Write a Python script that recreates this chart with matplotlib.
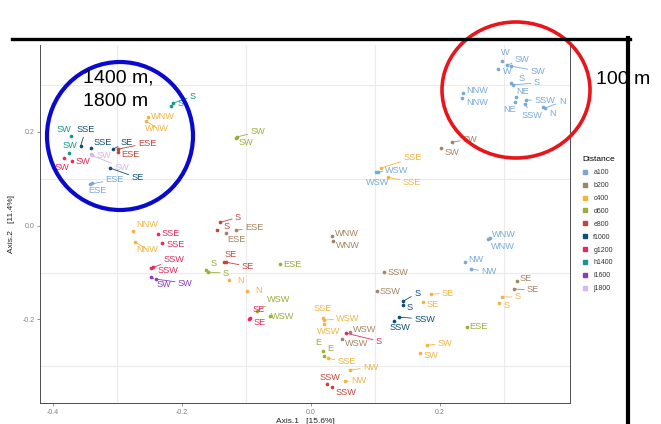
import matplotlib
matplotlib.use("Agg")
import matplotlib.pyplot as plt
from matplotlib.lines import Line2D
from matplotlib.patches import Ellipse

plt.rcParams['font.family'] = ['Liberation Sans', 'DejaVu Sans']

# PCoA scores per distance group (Axis.1, Axis.2) and wind direction labels
a100_x = [0.296, 0.290, 0.304, 0.310, 0.310, 0.313, 0.318, 0.316, 0.333, 0.332, 0.363,
          0.360, 0.236, 0.234, 0.101, 0.104, -0.343, -0.340, 0.274, 0.278, 0.239, 0.248]
a100_y = [0.351, 0.334, 0.342, 0.340, 0.304, 0.300, 0.274, 0.263, 0.268, 0.259, 0.251,
          0.253, 0.283, 0.272, 0.114, 0.114, 0.088, 0.091, -0.029, -0.027, -0.078, -0.093]
a100_lab = ["W", "W", "SW", "SW", "S", "S", "NE", "NE", "SSW", "SSW", "N",
            "N", "NNW", "NNW", "WSW", "WSW", "ESE", "ESE", "WNW", "WNW", "NW", "NW"]

b200_x = [0.219, 0.202, 0.033, 0.034, 0.113, 0.102, -0.116, -0.132, 0.319, 0.315, 0.060, 0.048]
b200_y = [0.178, 0.165, -0.022, -0.033, -0.099, -0.140, -0.010, -0.016, -0.118, -0.135, -0.227, -0.242]
b200_lab = ["SW", "SW", "WNW", "WNW", "SSW", "SSW", "ESE", "ESE", "SE", "SE", "WSW", "WSW"]

c400_x = [-0.253, -0.256, 0.109, 0.119, -0.276, -0.273, -0.127, -0.099, 0.019, 0.020,
          0.020, 0.026, 0.060, 0.053, 0.186, 0.174, 0.296, 0.291, 0.180, 0.169]
c400_y = [0.231, 0.223, 0.123, 0.103, -0.012, -0.035, -0.116, -0.140, -0.197, -0.201,
          -0.210, -0.283, -0.308, -0.332, -0.146, -0.163, -0.152, -0.165, -0.255, -0.272]
c400_lab = ["WNW", "WNW", "SSE", "SSE", "NNW", "NNW", "N", "N", "SSE", "WSW",
            "WSW", "SSE", "NW", "NW", "SE", "SE", "S", "S", "SW", "SW"]

d600_x = [-0.115, -0.116, -0.163, -0.160, -0.048, 0.242, -0.064, -0.084, 0.019, 0.020]
d600_y = [0.189, 0.187, -0.095, -0.099, -0.082, -0.216, -0.193, -0.182, -0.268, -0.278]
d600_lab = ["SW", "SW", "S", "S", "ESE", "ESE", "WSW", "WSW", "E", "E"]

e800_x = [-0.299, -0.299, -0.141, -0.146, -0.135, -0.132, 0.025, 0.033]
e800_y = [0.163, 0.157, 0.007, -0.010, -0.078, -0.078, -0.338, -0.344]
e800_lab = ["ESE", "ESE", "S", "S", "SE", "SE", "SSW", "SSW"]

f1000_x = [-0.357, -0.341, -0.307, -0.312, 0.143, 0.143, 0.129, 0.136]
f1000_y = [0.170, 0.165, 0.163, 0.123, -0.161, -0.170, -0.204, -0.195]
f1000_lab = ["SSE", "SSE", "SE", "SE", "S", "S", "SSW", "SSW"]

g1200_x = [-0.383, -0.371, -0.237, -0.231, -0.248, -0.245, -0.095, -0.096, 0.054]
g1200_y = [0.144, 0.138, -0.018, -0.037, -0.091, -0.088, -0.197, -0.199, -0.229]
g1200_lab = ["SW", "SW", "SSE", "SSE", "SSW", "SSW", "SE", "SE", "S"]

h1400_x = [-0.214, -0.217, -0.372, -0.375]
h1400_y = [0.261, 0.255, 0.191, 0.155]
h1400_lab = ["S", "S", "SW", "SW"]

i1600_x = [-0.248, -0.240]
i1600_y = [-0.110, -0.114]
i1600_lab = ["SW", "SW"]

j1800_x = [-0.341, -0.340]
j1800_y = [0.152, 0.150]
j1800_lab = ["SW", "SW"]

# repelled label offsets in pixels (right, up)
a100_off = [(3, 8), (9, -3), (15, 6), (27, -5), (11, 5), (24, 2), (7, 6), (-5, -7), (19, -1),
            (7, -11), (17, 6), (9, -7), (14, 2), (15, -4), (21, 2), (0, -10), (25, 5), (6, -8),
            (16, 5), (13, -8), (11, 3), (18, -2)]
b200_off = [(18, 3), (11, -4), (15, 2), (15, -4), (14, 0), (13, 0), (18, 3), (11, -6),
            (9, 3), (19, -1), (15, 3), (15, -4)]
c400_off = [(15, 1), (11, -7), (31, 10), (24, -5), (14, 7), (12, -7), (12, 0), (11, 1),
            (0, 10), (24, 1), (5, -7), (19, -3), (21, 3), (14, 1), (17, 1), (9, -2),
            (16, 0), (8, -2), (18, 2), (11, -2)]
d600_off = [(21, 5), (10, -5), (8, 7), (18, -1), (12, 0), (11, 0), (13, 0), (22, 12), (-5, 9), (6, 8)]
e800_off = [(29, 6), (12, -3), (18, 5), (10, 4), (7, 8), (22, -4), (3, 7), (14, -5)]
f1000_off = [(5, 16), (12, 6), (14, 7), (28, -10), (14, 8), (6, -2), (6, -6), (26, -2)]
g1200_off = [(-2, -9), (11, -1), (13, 1), (14, -1), (23, 9), (15, -4), (9, 9), (11, -3), (33, -8)]
h1400_off = [(20, 7), (10, 2), (-7, 7), (1, 7)]
i1600_off = [(13, -7), (29, -4)]
j1800_off = [(13, -1), (30, -12)]

groups = ["a100", "b200", "c400", "d600", "e800", "f1000", "g1200", "h1400", "i1600", "j1800"]
colors = ["#78A9D6", "#A48363", "#F2B441", "#9BAE3C", "#C2453B",
          "#0D5073", "#E62A5F", "#16978B", "#8B3DBA", "#D8B6F0"]
data = [
    (a100_x, a100_y, a100_lab, a100_off),
    (b200_x, b200_y, b200_lab, b200_off),
    (c400_x, c400_y, c400_lab, c400_off),
    (d600_x, d600_y, d600_lab, d600_off),
    (e800_x, e800_y, e800_lab, e800_off),
    (f1000_x, f1000_y, f1000_lab, f1000_off),
    (g1200_x, g1200_y, g1200_lab, g1200_off),
    (h1400_x, h1400_y, h1400_lab, h1400_off),
    (i1600_x, i1600_y, i1600_lab, i1600_off),
    (j1800_x, j1800_y, j1800_lab, j1800_off),
]

W, H = 661, 424
fig = plt.figure(figsize=(W / 100, H / 100), dpi=100)
ax = fig.add_axes([40 / W, 21 / H, 530 / W, 358 / H])
ax.set_xlim(-0.420, 0.4016)
ax.set_ylim(-0.378, 0.385)

# grid lines sit between the tick labels
for g in [-0.3, -0.1, 0.1, 0.3]:
    ax.axvline(g, color="#ebebeb", lw=0.8, zorder=0)
    ax.axhline(g, color="#ebebeb", lw=0.8, zorder=0)

ax.set_xticks([-0.4, -0.2, 0.0, 0.2])
ax.set_yticks([-0.2, 0.0, 0.2])
ax.set_xticklabels(["-0.4", "-0.2", "0.0", "0.2"])
ax.set_yticklabels(["-0.2", "0.0", "0.2"])
ax.tick_params(labelsize=5, colors="#7f7f7f", length=2.5, width=0.6, pad=1.5)
for side in ["left", "bottom", "right"]:
    ax.spines[side].set_color("#4d4d4d")
    ax.spines[side].set_linewidth(0.7)
ax.spines["top"].set_visible(False)
ax.set_xlabel("Axis.1   [15.6%]", fontsize=6, color="#222222", labelpad=2)
ax.set_ylabel("Axis.2   [11.4%]", fontsize=6, color="#222222", labelpad=5)

for (xs, ys, labs, offs), col in zip(data, colors):
    ax.scatter(xs, ys, s=7, color=col, zorder=3, linewidths=0)
    for x, y, lab, (dx, dy) in zip(xs, ys, labs, offs):
        props = None
        if (dx * dx + dy * dy) ** 0.5 > 13:
            props = dict(arrowstyle="-", color=col, lw=0.6, shrinkA=0, shrinkB=0)
        ax.annotate(lab, xy=(x, y), xytext=(dx, dy), textcoords="offset pixels",
                    ha="center", va="center", fontsize=6.6, color=col,
                    arrowprops=props, zorder=4)

handles = [Line2D([], [], marker="s", linestyle="", markersize=3, color=c) for c in colors]
leg = fig.legend(handles, groups, title="Distance", loc="upper left",
                 bbox_to_anchor=(576 / W, 1 - 150 / H), frameon=False, fontsize=5,
                 title_fontsize=6, handlelength=0.8, handletextpad=0.8,
                 labelspacing=0.85, alignment="left")
for t in leg.get_texts():
    t.set_color("#333333")


def fpos(px, py):
    return px / W, 1 - py / H


# callouts drawn over the figure
fig.add_artist(Ellipse(fpos(120, 136), 146 / W, 148 / H, transform=fig.transFigure,
                       fill=False, edgecolor="#0A0ACF", lw=3.0, zorder=10))
fig.add_artist(Ellipse(fpos(516, 90), 148 / W, 136 / H, transform=fig.transFigure,
                       fill=False, edgecolor="#E8161B", lw=2.6, zorder=10))
fig.text(*fpos(83, 78), "1400 m,", fontsize=14, ha="left", va="center", zorder=11)
fig.text(*fpos(83, 102), "1800 m", fontsize=14, ha="left", va="center", zorder=11)
fig.text(*fpos(596, 79), "100 m", fontsize=14, ha="left", va="center", zorder=11)

fig.add_artist(Line2D([12 / W, 630 / W], [1 - 39 / H, 1 - 39 / H], transform=fig.transFigure,
                      color="black", lw=2.4, zorder=12))
fig.add_artist(Line2D([628 / W, 628 / W], [1 - 38 / H, 0], transform=fig.transFigure,
                      color="black", lw=3.0, zorder=12))

fig.savefig("out.png", dpi=100)
